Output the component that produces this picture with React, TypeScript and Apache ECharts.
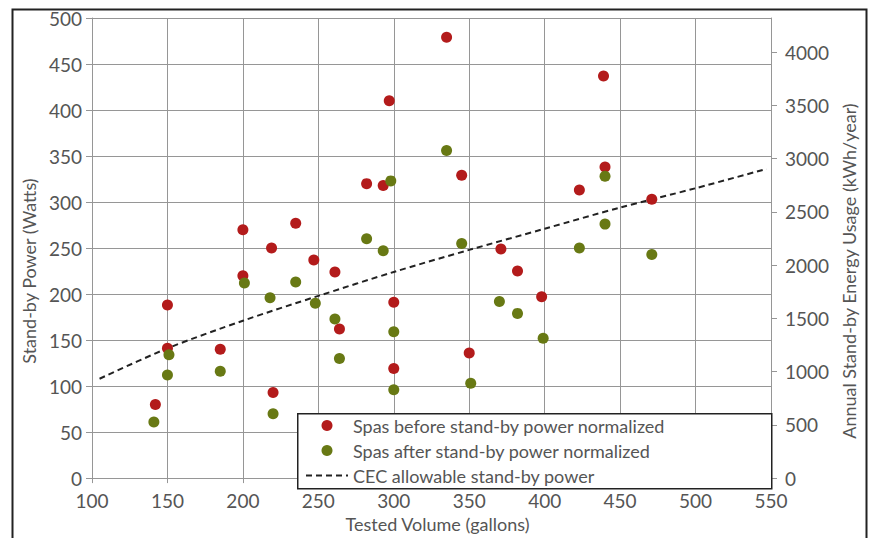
import React, { useEffect, useRef } from "react";
import * as echarts from "echarts";

// Red: spas before stand-by power normalized [volume gallons, watts]
const beforeVolumes = [142, 150, 150, 185, 200, 200, 219, 220, 235, 247, 261, 264, 282, 293, 297, 300, 300, 335, 345, 350, 371, 382, 398, 423, 439, 440, 471];
const beforeWatts = [80, 188, 141, 140, 220, 270, 250, 93, 277, 237, 224, 162, 320, 318, 410, 191, 119, 479, 329, 136, 249, 225, 197, 313, 437, 338, 303];

// Green: spas after stand-by power normalized
const afterVolumes = [141, 151, 150, 185, 201, 218, 220, 235, 248, 261, 264, 282, 293, 298, 300, 300, 335, 345, 351, 370, 382, 399, 423, 440, 440, 471];
const afterWatts = [61, 134, 112, 116, 212, 196, 70, 213, 190, 173, 130, 260, 247, 323, 159, 96, 356, 255, 103, 192, 179, 152, 250, 328, 276, 243];

// CEC allowable stand-by power curve
const cecVolumes = [105, 150, 200, 250, 300, 350, 400, 450, 500, 547];
const cecWatts = [108, 141, 171, 198, 224, 248, 271, 294, 315, 336];

const rightTicks = [0, 500, 1000, 1500, 2000, 2500, 3000, 3500, 4000];

const seriesNames = [
  "Spas before stand-by power normalized",
  "Spas after stand-by power normalized",
  "CEC allowable stand-by power",
];

const FONT = "Lato";
const TEXT = "#555555";
const GRID = "#969696";

export default function App() {
  const ref = useRef<HTMLDivElement>(null);
  useEffect(() => {
    if (!ref.current) return;
    const chart = echarts.init(ref.current, undefined, { renderer: "svg" });
    const zip = (xs: number[], ys: number[]) => xs.map((x, i) => [x, ys[i]]);
    chart.setOption({
      animation: false,
      backgroundColor: "#ffffff",
      textStyle: { fontFamily: FONT, color: TEXT },
      grid: { left: 92, top: 18, right: 98, bottom: 50, containLabel: false },
      xAxis: {
        type: "value",
        min: 100,
        max: 550,
        interval: 50,
        name: "Tested Volume (gallons)",
        nameLocation: "middle",
        nameGap: 36,
        nameTextStyle: { fontSize: 18, color: TEXT, fontFamily: FONT, padding: [0, 0, 0, 12] },
        axisLine: { show: true, lineStyle: { color: GRID, width: 1 } },
        axisTick: { show: true, length: 5, lineStyle: { color: GRID } },
        axisLabel: { fontSize: 19, color: TEXT, margin: 13, fontFamily: FONT },
        splitLine: { show: true, lineStyle: { color: GRID, width: 1 } },
      },
      yAxis: [
        {
          type: "value",
          min: 0,
          max: 500,
          interval: 50,
          position: "left",
          name: "Stand-by Power (Watts)",
          nameLocation: "middle",
          nameGap: 54,
          nameTextStyle: { fontSize: 18, color: TEXT, fontFamily: FONT, padding: [0, 46, 0, 0] },
          axisLine: { show: true, lineStyle: { color: GRID, width: 1 } },
          axisTick: { show: true, length: 6, lineStyle: { color: GRID } },
          axisLabel: { fontSize: 19, color: TEXT, margin: 10, fontFamily: FONT },
          splitLine: { show: true, lineStyle: { color: GRID, width: 1 } },
        },
        {
          type: "value",
          min: 0,
          max: 4320,
          interval: 500,
          position: "right",
          name: "Annual Stand-by Energy Usage (kWh/year)",
          nameLocation: "middle",
          nameGap: 67,
          nameTextStyle: { fontSize: 18, color: TEXT, fontFamily: FONT, padding: [0, 46, 0, 0] },
          axisLine: { show: true, lineStyle: { color: GRID, width: 1 } },
          axisTick: { show: true, length: 6, lineStyle: { color: GRID }, customValues: rightTicks },
          axisLabel: {
            fontSize: 19,
            color: TEXT,
            margin: 14,
            fontFamily: FONT,
            customValues: rightTicks,
            formatter: (v: number) => String(v),
          },
          splitLine: { show: false },
        },
      ],
      legend: {
        orient: "vertical",
        left: 305,
        top: 413,
        padding: 0,
        itemGap: 0,
        itemWidth: 42,
        itemHeight: 11,
        textStyle: { fontSize: 18, color: TEXT, fontFamily: FONT, lineHeight: 25 },
        data: [
          { name: seriesNames[0], icon: "circle" },
          { name: seriesNames[1], icon: "circle" },
          { name: seriesNames[2], itemStyle: { opacity: 0 } },
        ],
        z: 10,
      },
      graphic: [
        {
          type: "rect",
          left: 297,
          top: 413,
          shape: { width: 474, height: 75 },
          style: { fill: "#ffffff", stroke: "#222222", lineWidth: 1.5 },
          z: 5,
        },
        {
          type: "rect",
          left: 10,
          top: 7,
          shape: { width: 854, height: 560 },
          style: { fill: "none", stroke: "#222222", lineWidth: 2 },
          z: 0,
          silent: true,
        },
      ],
      series: [
        {
          name: seriesNames[0],
          type: "scatter",
          data: zip(beforeVolumes, beforeWatts),
          symbolSize: 11,
          itemStyle: { color: "#B31B1B", opacity: 1 },
          z: 3,
        },
        {
          name: seriesNames[1],
          type: "scatter",
          data: zip(afterVolumes, afterWatts),
          symbolSize: 11,
          itemStyle: { color: "#687914", opacity: 1 },
          z: 3,
        },
        {
          name: seriesNames[2],
          type: "line",
          data: zip(cecVolumes, cecWatts),
          symbol: "none",
          smooth: 0.3,
          lineStyle: { color: "#222222", width: 2, type: [6, 4] },
          itemStyle: { color: "#222222" },
          z: 2,
        },
      ],
    });
    return () => chart.dispose();
  }, []);
  return (
    <div
      ref={ref}
      style={{ position: "fixed", left: 0, top: 0, width: 869, height: 538 }}
    />
  );
}
